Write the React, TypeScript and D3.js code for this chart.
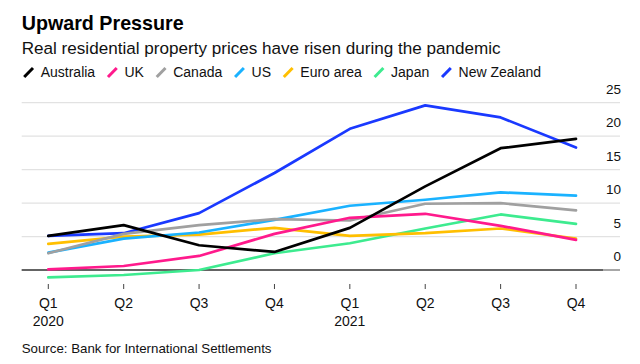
import React from "react";
import * as d3 from "d3";

const quarters = ["Q1", "Q2", "Q3", "Q4", "Q1", "Q2", "Q3", "Q4"];
const years = ["2020", "", "", "", "2021", "", "", ""];
const yTicks = [0, 5, 10, 15, 20, 25];

const countries = ["Australia", "UK", "Canada", "US", "Euro area", "Japan", "New Zealand"];
const colors = ["#000000", "#ff1a8c", "#a0a0a0", "#1ab2ff", "#ffbf00", "#3deb8f", "#1a39ff"];

const australia = [5.1, 6.7, 3.7, 2.7, 6.3, 12.5, 18.2, 19.6];
const uk = [0.1, 0.6, 2.1, 5.4, 7.8, 8.4, 6.6, 4.5];
const canada = [2.5, 5.4, 6.7, 7.6, 7.4, 9.9, 10.0, 8.9];
const us = [2.6, 4.7, 5.6, 7.5, 9.6, 10.5, 11.6, 11.1];
const euroArea = [3.9, 5.0, 5.3, 6.3, 5.1, 5.5, 6.2, 4.7];
const japan = [-1.1, -0.75, 0, 2.5, 4.0, 6.2, 8.3, 6.9];
const newZealand = [5.1, 5.5, 8.5, 14.5, 21.1, 24.6, 22.8, 18.3];

const series = [australia, uk, canada, us, euroArea, japan, newZealand];

const FONT = "'Liberation Sans', Arial, Helvetica, sans-serif";

function textWidth(text: string, size: number) {
    const ctx = document.createElement("canvas").getContext("2d");
    if (!ctx) return text.length * size * 0.55;
    ctx.font = `${size}px ${FONT}`;
    return ctx.measureText(text).width;
}

export default function App() {
    const width = 640;
    const height = 364;
    const left = 21.7;

    const x = d3.scalePoint<number>()
        .domain(d3.range(quarters.length))
        .range([48.3, 576]);
    const y = d3.scaleLinear()
        .domain([0, 25])
        .range([270, 102.7]);

    const line = d3.line<number>()
        .x((d, i) => x(i) as number)
        .y(d => y(d));

    // legend laid out left to right: slash, gap, label, gap
    let cursor = 22.7;
    const legend = countries.map((name, i) => {
        const item = { name, color: colors[i], sx: cursor, tx: cursor + 18 };
        cursor = item.tx + textWidth(name, 14) + 11.3;
        return item;
    });

    return (
        <svg width={width} height={height} style={{ position: "absolute", left: 0, top: 0 }}
            fontFamily={FONT}>
            <rect width={width} height={height} fill="#fff" />
            <text x={left} y={30} fontSize={19.7} fontWeight="bold" fill="#000">Upward Pressure</text>
            <text x={left} y={54} fontSize={17.1} fill="#111">
                Real residential property prices have risen during the pandemic
            </text>

            {legend.map(d => (
                <g key={d.name}>
                    <line x1={d.sx + 1.5} y1={77} x2={d.sx + 10.3} y2={68}
                        stroke={d.color} strokeWidth={3} />
                    <text x={d.tx} y={77.3} fontSize={14} fill="#111">{d.name}</text>
                </g>
            ))}

            {yTicks.map(t => (
                <g key={t}>
                    <line x1={21.7} x2={620} y1={y(t)} y2={y(t)}
                        stroke={t === 0 ? "#8a8a8a" : "#e2e2e2"} strokeWidth={1.3} />
                    <text x={621} y={y(t) - 8.8} fontSize={13.5} textAnchor="end" fill="#111">{t}</text>
                </g>
            ))}
            <line x1={21.7} x2={603} y1={y(0)} y2={y(0)} stroke="#222" strokeWidth={1.2} />

            {series.map((_, k) => series.length - 1 - k).map(i => (
                <path key={countries[i]} d={line(series[i]) as string} fill="none"
                    stroke={colors[i]} strokeWidth={2.7} strokeLinejoin="round" strokeLinecap="round" />
            ))}

            {quarters.map((q, i) => (
                <g key={i} transform={`translate(${x(i)},0)`}>
                    <line y1={284} y2={289} stroke="#444" strokeWidth={1} />
                    <text y={308.3} fontSize={14} textAnchor="middle" fill="#111">{q}</text>
                    {years[i] && <text y={325.7} fontSize={14} textAnchor="middle" fill="#111">{years[i]}</text>}
                </g>
            ))}

            <text x={left} y={352.7} fontSize={13.3} fill="#111">Source: Bank for International Settlements</text>
        </svg>
    );
}
